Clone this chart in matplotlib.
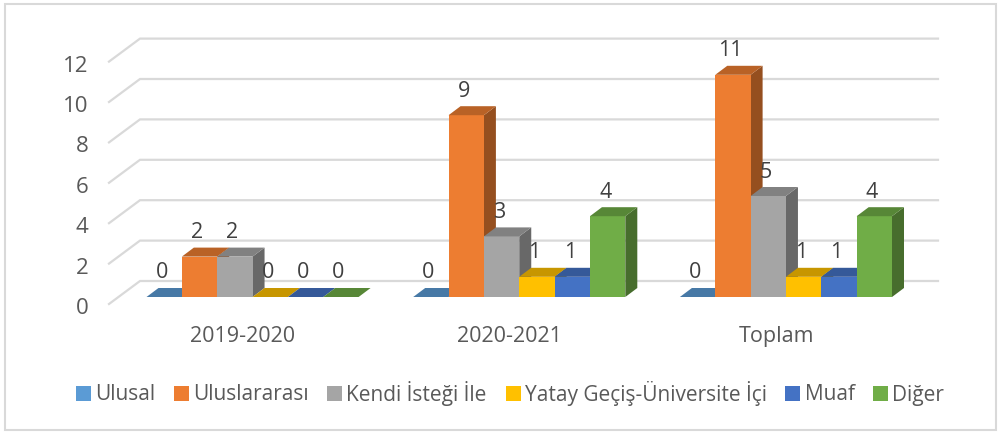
import matplotlib
matplotlib.use('Agg')
import matplotlib.pyplot as plt
from matplotlib.patches import Rectangle
from matplotlib.colors import to_rgb
from matplotlib.transforms import ScaledTranslation

categories = ['2019-2020', '2020-2021', 'Toplam']
series_names = ['Ulusal', 'Uluslararası', 'Kendi İsteği İle',
                'Yatay Geçiş-Üniversite İçi', 'Muaf', 'Diğer']
ulusal = [0, 0, 0]
uluslararasi = [2, 9, 11]
kendi_istegi = [2, 3, 5]
yatay_gecis = [0, 1, 1]
muaf = [0, 1, 1]
diger = [0, 4, 4]
series_values = [ulusal, uluslararasi, kendi_istegi, yatay_gecis, muaf, diger]
colors = ['#5B9BD5', '#ED7D31', '#A5A5A5', '#FFC000', '#4472C4', '#70AD47']
y_ticks = [0, 2, 4, 6, 8, 10, 12]

plt.rcParams['font.family'] = ['Open Sans', 'DejaVu Sans']

W, H = 1000, 432
fig = plt.figure(figsize=(W / 100, H / 100), dpi=100)

# axes placed so value 0 sits on the front edge of the floor
left, right, bottom, top = 109, 938, 304, 30
ax = fig.add_axes([left / W, 1 - bottom / H, (right - left) / W, (bottom - top) / H])
px_x = 266.7   # pixels per category
px_y = 20.2    # pixels per value unit
ax.set_xlim((left - 243) / px_x, (right - 243) / px_x)
ax.set_ylim(0, (bottom - top) / px_y)
for s in ax.spines.values():
    s.set_visible(False)
ax.patch.set_alpha(0)


def dx(p):
    return p / px_x


def dy(p):
    return p / px_y


# walls: gridlines run from the front edge to the back wall
for v in y_ticks:
    ax.plot([ax.get_xlim()[0], ax.get_xlim()[0] + dx(31), ax.get_xlim()[1]],
            [v, v + dy(23), v + dy(23)], color='#D9D9D9', lw=1.6, zorder=1,
            solid_joinstyle='miter', clip_on=False)


def shade(c, f):
    return tuple(x * f for x in to_rgb(c))


bar_w = dx(35.35)
base = dy(7)
dep_x, dep_y = dx(12), dy(9)
start = dx(-96.5)   # left edge of first bar relative to the category tick
z = 3
for i in range(len(categories)):
    for j, vals in enumerate(series_values):
        v = vals[i]
        x0 = i + start + j * bar_w
        x1 = x0 + bar_w
        y0, y1 = base, base + v
        if v > 0:
            ax.fill([x1, x1 + dep_x, x1 + dep_x, x1], [y0, y0 + dep_y, y1 + dep_y, y1],
                    color=shade(colors[j], 0.63), lw=0, zorder=z)
            ax.fill([x0, x1, x1, x0], [y0, y0, y1, y1], color=colors[j], lw=0, zorder=z)
        ax.fill([x0, x1, x1 + dep_x, x0 + dep_x], [y1, y1, y1 + dep_y, y1 + dep_y],
                color=shade(colors[j], 0.78), lw=0, zorder=z)
        z += 1
        ax.text(x0 + bar_w / 2 - dx(2.5), y1 + dy(24), str(v), ha='center', va='center',
                fontsize=15.5, color='#404040', zorder=100)

ax.set_yticks(y_ticks)
ax.set_xticks(range(len(categories)))
ax.set_xticklabels(categories)
ax.tick_params(axis='y', length=0, pad=15, labelsize=16, labelcolor='#595959')
ax.tick_params(axis='x', length=0, pad=16, labelsize=15.5, labelcolor='#595959')
shift = ScaledTranslation(0, -2 / 100, fig.dpi_scale_trans)
for lab in ax.get_yticklabels():
    lab.set_transform(lab.get_transform() + shift)

handles = [Rectangle((0, 0), 1, 1, color=c, lw=0) for c in colors]
fig.legend(handles, series_names, loc='center', bbox_to_anchor=(510 / W, 1 - 393 / H),
           ncols=6, frameon=False, fontsize=15, labelcolor='#595959',
           handlelength=0.72, handleheight=0.72, handletextpad=0.2, columnspacing=0.9,
           borderpad=0, borderaxespad=0)

# chart frame
fig.add_artist(Rectangle((4.5 / W, 1 - 430 / H), 991 / W, 426.5 / H, transform=fig.transFigure,
                         fill=False, edgecolor='#D9D9D9', lw=1.5))

fig.savefig('out.png', dpi=100)
